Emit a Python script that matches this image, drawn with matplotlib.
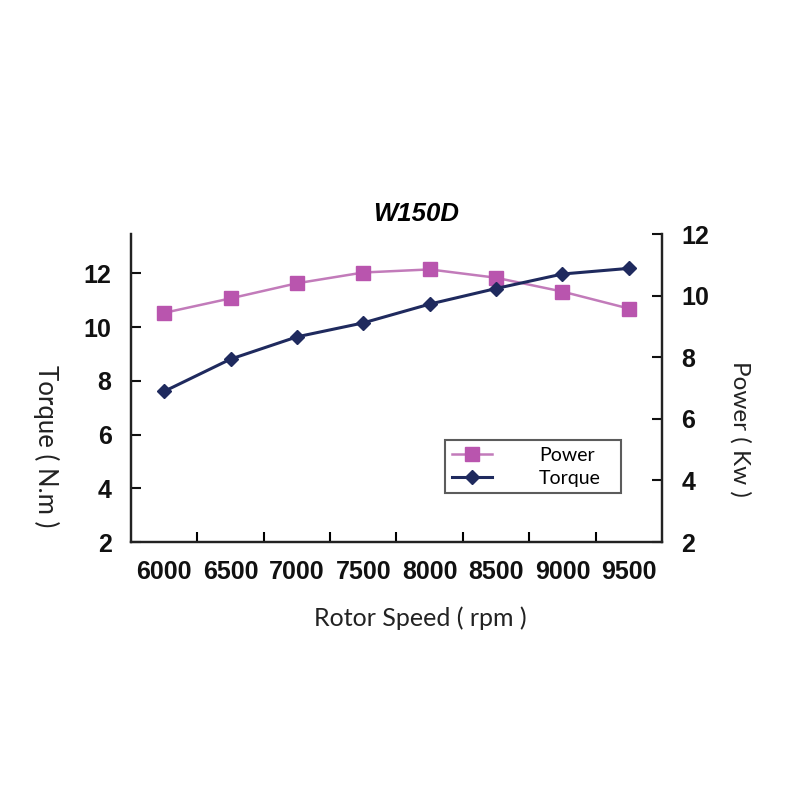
import matplotlib.pyplot as plt

# data
speeds = ['6000', '6500', '7000', '7500', '8000', '8500', '9000', '9500']
torque = [7.61, 8.81, 9.64, 10.16, 10.86, 11.44, 11.98, 12.19]
power = [9.44, 9.91, 10.40, 10.75, 10.85, 10.58, 10.13, 9.58]
torque_ticks = [2, 4, 6, 8, 10, 12]
power_ticks = [2, 4, 6, 8, 10, 12]

pink = '#B955AE'
pink_line = '#C27BBA'
navy = '#1F2A5E'

plt.rcParams['font.family'] = ['Liberation Sans', 'DejaVu Sans']

fig = plt.figure(figsize=(8, 8), dpi=100)
ax = fig.add_axes([131 / 800, 258 / 800, 531 / 800, 308 / 800])
ax2 = ax.twinx()

x = list(range(len(speeds)))
l_pow, = ax2.plot(x, power, color=pink_line, lw=1.8, marker='s', ms=10.5,
                  mfc=pink, mec=pink, label='Power', zorder=3)
l_tor, = ax.plot(x, torque, color=navy, lw=2.2, marker='D', ms=7.5,
                 mfc=navy, mec=navy, label='Torque', zorder=3)
ax.set_zorder(ax2.get_zorder() + 1)
ax.patch.set_visible(False)

ax.set_xlim(-0.5, len(speeds) - 0.5)
ax.set_ylim(2, 13.47)
ax2.set_ylim(2, 12)
ax.set_yticks(torque_ticks)
ax2.set_yticks(power_ticks)

ax.set_xticks(x)
ax.set_xticklabels(speeds)
ax.set_xticks([i + 0.5 for i in x[:-1]], minor=True)
ax.tick_params(axis='x', which='major', length=0, pad=13)
ax.tick_params(axis='x', which='minor', direction='in', length=7, width=1.5)

for a in (ax, ax2):
    a.spines['top'].set_visible(False)
    for s in ('left', 'right', 'bottom'):
        a.spines[s].set_linewidth(1.6)
        a.spines[s].set_color('#222222')
    a.tick_params(axis='y', direction='in', length=7, width=1.5, pad=14)
    a.tick_params(labelsize=18, colors='#111111')
    for t in a.get_yticklabels() + a.get_xticklabels():
        t.set_fontweight('bold')

fig.text(0.52, 0.7325, 'W150D', fontsize=18.5, fontweight='bold', style='italic',
         ha='center', va='center')
fig.text(0.525, 0.2275, 'Rotor Speed ( rpm )', fontsize=18, family='Lato',
         ha='center', va='center', color='#222222')
fig.text(0.0575, 0.4425, 'Torque ( N.m )', fontsize=18.5, family='Lato',
         rotation=270, ha='center', va='center', color='#222222')
fig.text(0.925, 0.4638, 'Power ( Kw )', fontsize=17.5, family='Lato',
         rotation=270, ha='center', va='center', color='#222222')

leg = ax.legend([l_pow, l_tor], ['Power', 'Torque'], loc='upper left',
                bbox_to_anchor=(0.591, 0.143, 0.332, 0.188), mode='expand',
                frameon=True, fancybox=False, handlelength=2.1,
                handletextpad=2.4, borderpad=0.35, labelspacing=0.3,
                borderaxespad=0, prop={'family': 'Lato', 'size': 14})
leg.get_frame().set_edgecolor('#333333')
leg.get_frame().set_linewidth(1.5)

fig.savefig('out.png', dpi=100)
